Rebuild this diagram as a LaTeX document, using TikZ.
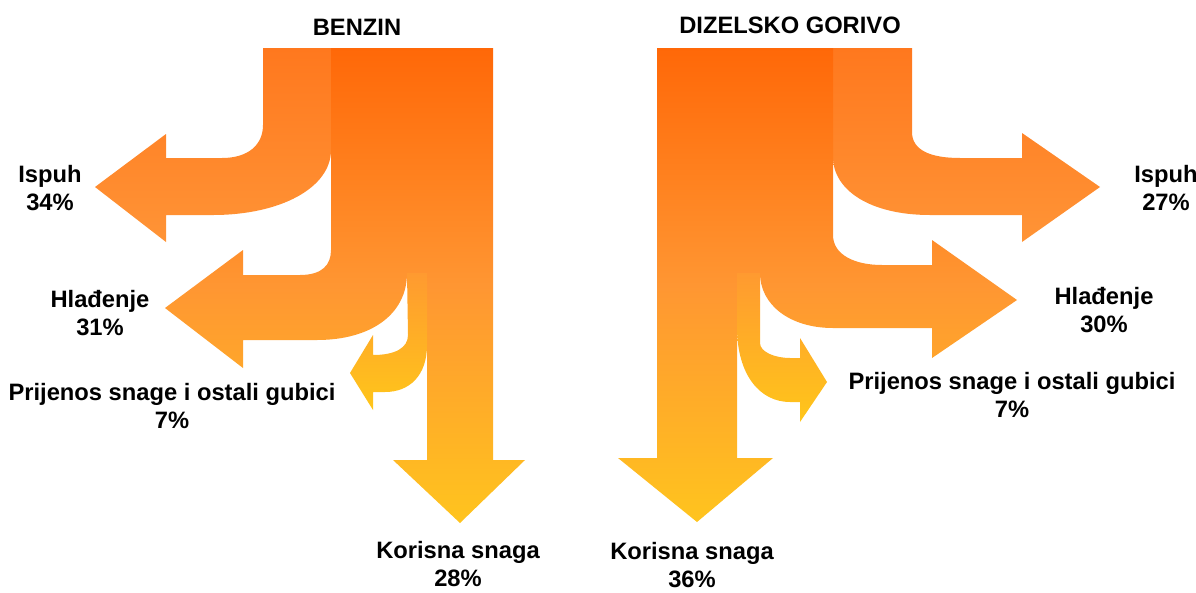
\documentclass[tikz,border=0pt]{standalone}
\usepackage{fontspec}
\setmainfont{Liberation Sans}
\usepackage{tikz}
\definecolor{flowtop}{RGB}{255,104,8}
\definecolor{flowmid}{RGB}{255,150,50}
\definecolor{flowlow}{RGB}{255,196,30}
\definecolor{exhtop}{RGB}{255,120,30}
\definecolor{exhlow}{RGB}{255,148,54}
\definecolor{smalltop}{RGB}{255,154,48}
\definecolor{smalllow}{RGB}{255,198,26}

\begin{document}
\begin{tikzpicture}[x=0.02cm,y=-0.02cm,font=\bfseries\fontsize{13.5}{16}\selectfont]
 \tikzstyle{every node}=[inner sep=0pt,align=center]
 \tikzstyle{mainflow}=[top color=flowtop,bottom color=flowlow,middle color=flowmid]
 \tikzstyle{exhflow}=[top color=exhtop,bottom color=exhlow]
 \tikzstyle{smallflow}=[top color=smalltop,bottom color=smalllow]

 \useasboundingbox (0,0) rectangle (1196,592);

 % BENZIN
 \shade[exhflow] (263,48) -- (331,48) -- (331,150) .. controls (331,188) and (280,215) .. (213,215)
   -- (166,215) -- (166,242) -- (95,187) -- (166,134) -- (166,158) -- (222,158)
   .. controls (248,158) and (263,145) .. (263,125) -- cycle;
 \shade[mainflow] (331,48) -- (493,48) -- (493,460) -- (525,460) -- (460,523) -- (393,460)
   -- (427,460) -- (427,273) -- (407,273) .. controls (407,315) and (370,340) .. (317,340)
   -- (243,340) -- (243,368) -- (165,308) -- (243,250) -- (243,275) -- (300,275)
   .. controls (322,275) and (331,265) .. (331,250) -- cycle;
 \shade[smallflow] (407,273) -- (427,273) -- (427,345) .. controls (427,375) and (410,392) .. (385,392)
   -- (373,392) -- (373,410) -- (350,373) -- (373,335) -- (373,355)
   .. controls (395,355) and (408,348) .. (408,335) -- cycle;

 % DIZELSKO GORIVO
 \shade[exhflow] (833,48) -- (912,48) -- (912,132) .. controls (912,150) and (930,158) .. (960,158)
   -- (1022,158) -- (1022,133) -- (1100,187) -- (1022,242) -- (1022,215) -- (930,215)
   .. controls (870,215) and (833,190) .. (833,157) -- cycle;
 \shade[mainflow] (657,48) -- (833,48) -- (833,235) .. controls (833,255) and (855,265) .. (882,265)
   -- (932,265) -- (932,240) -- (1017,300) -- (932,358) -- (932,328) -- (833,328)
   .. controls (790,328) and (760,305) .. (760,273) -- (737,273) -- (737,458) -- (773,458)
   -- (697,522) -- (618,458) -- (657,458) -- cycle;
 \shade[smallflow] (737,273) -- (760,273) -- (760,343) .. controls (760,352) and (775,358) .. (790,358)
   -- (800,358) -- (800,338) -- (827,382) -- (800,422) -- (800,402) -- (790,402)
   .. controls (760,402) and (737,375) .. (737,327) -- cycle;

 \node (benzin) at (357,27) {BENZIN};
 \node (ispuhB) at (50,188) {Ispuh\\34\%};
 \node (hladB) at (100,313) {Hlađenje\\31\%};
 \node (prijB) at (172,406) {Prijenos snage i ostali gubici\\7\%};
 \node (korB) at (458,564) {Korisna snaga\\28\%};

 \node (dizel) at (790,25) {DIZELSKO GORIVO};
 \node (ispuhD) at (1166,188) {Ispuh\\27\%};
 \node (hladD) at (1104,310) {Hlađenje\\30\%};
 \node (prijD) at (1012,395) {Prijenos snage i ostali gubici\\7\%};
 \node (korD) at (692,565) {Korisna snaga\\36\%};
\end{tikzpicture}
\end{document}
